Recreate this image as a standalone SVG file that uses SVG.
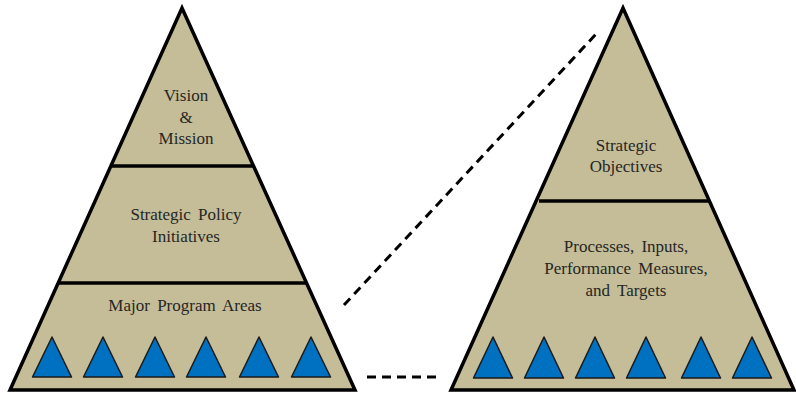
<svg xmlns="http://www.w3.org/2000/svg" width="796" height="396" viewBox="0 0 796 396">
<style>
.pyr{fill:#C4BD97;stroke:#000;stroke-width:3.5;stroke-linejoin:miter}
.div{stroke:#000;stroke-width:3.5;fill:none}
.tri{fill:#0070C0;stroke:#1a1a1a;stroke-width:1.5;stroke-linejoin:round}
.dash{stroke:#000;stroke-width:3;fill:none;stroke-dasharray:9 6}
.lbl{font-family:'Liberation Serif','Times New Roman',serif;font-size:17px;fill:#262626;text-anchor:middle;word-spacing:3px}
</style>
<rect width="796" height="396" fill="#fff"/>
<g id="connectors">
<line class="dash" x1="344" y1="305" x2="597" y2="33"/>
<line class="dash" x1="367" y1="377" x2="438" y2="377"/>
</g>
<g id="left-pyramid">
<polygon class="pyr" points="182,8 355,390 10,390"/>
<line class="div" x1="111" y1="166" x2="254" y2="166"/>
<line class="div" x1="58" y1="283" x2="307" y2="283"/>
</g>
<g id="vision-mission" class="lbl">
<text x="186" y="101">Vision</text>
<text x="186" y="123">&amp;</text>
<text x="186" y="144">Mission</text>
</g>
<g id="strategic-policy" class="lbl">
<text x="186" y="220">Strategic Policy</text>
<text x="186" y="242">Initiatives</text>
</g>
<g id="major-program">
<text class="lbl" x="185" y="311">Major Program Areas</text>
<path class="tri" d="M52,337 L71.5,377 L32.5,377Z"/>
<path class="tri" d="M103,337 L122.5,377 L83.5,377Z"/>
<path class="tri" d="M155,337 L174.5,377 L135.5,377Z"/>
<path class="tri" d="M206,337 L225.5,377 L186.5,377Z"/>
<path class="tri" d="M259,337 L278.5,377 L239.5,377Z"/>
<path class="tri" d="M311,337 L330.5,377 L291.5,377Z"/>
</g>
<g id="right-pyramid">
<polygon class="pyr" points="623,8 794,390 451,390"/>
<line class="div" x1="539" y1="201" x2="709" y2="201"/>
</g>
<g id="strategic-objectives" class="lbl">
<text x="626" y="151">Strategic</text>
<text x="626" y="172">Objectives</text>
</g>
<g id="processes">
<g class="lbl">
<text x="626" y="252">Processes, Inputs,</text>
<text x="626" y="274">Performance Measures,</text>
<text x="626" y="296">and Targets</text>
</g>
<path class="tri" d="M493,337 L512.5,378 L473.5,378Z"/>
<path class="tri" d="M544,337 L563.5,378 L524.5,378Z"/>
<path class="tri" d="M595,337 L614.5,378 L575.5,378Z"/>
<path class="tri" d="M646,337 L665.5,378 L626.5,378Z"/>
<path class="tri" d="M701,337 L720.5,378 L681.5,378Z"/>
<path class="tri" d="M752,337 L771.5,378 L732.5,378Z"/>
</g>
</svg>
